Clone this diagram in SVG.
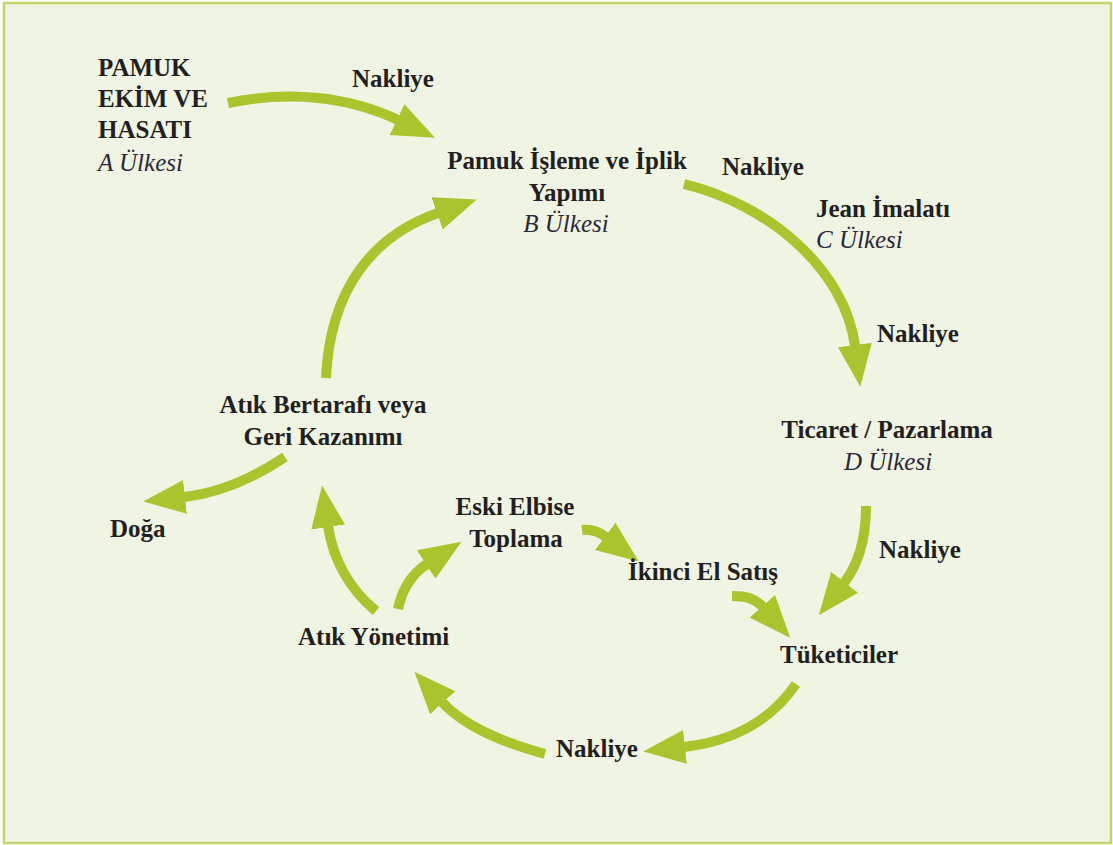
<svg xmlns="http://www.w3.org/2000/svg" width="1113" height="845" viewBox="0 0 1113 845">
<style>
.t{font-family:'Liberation Serif','Times New Roman',serif;font-size:25px;font-weight:bold;fill:#231f20}
.i{font-family:'Liberation Serif','Times New Roman',serif;font-size:25px;font-style:italic;fill:#2a2838}
.c{text-anchor:middle}
.a{fill:none;stroke:#a9c42c;stroke-width:10;marker-end:url(#ah)}
</style>
<defs>
<marker id="ah" markerUnits="userSpaceOnUse" markerWidth="44" markerHeight="36" viewBox="0 0 44 36" refX="1" refY="18" orient="auto">
<path d="M0,1 L42,18 L0,35 z" fill="#a9c42c"/>
</marker>
</defs>
<rect x="4" y="3" width="1107" height="840" fill="#f0f4e3" stroke="#c3d66b" stroke-width="2.5"/>
<g id="connectors">
<path class="a" d="M228,103 C290,90 350,97 398,120"/>
<path class="a" d="M326,378 C330,290 372,236 438,213"/>
<path class="a" d="M684,184 C770,205 845,270 855,346"/>
<path class="a" d="M866,506 C866,540 858,565 844,583"/>
<path class="a" d="M796,684 C770,722 730,742 684,747"/>
<path class="a" d="M545,754 C500,742 462,724 442,702"/>
<path class="a" d="M376,611 C350,590 333,560 328,526"/>
<path class="a" d="M285,457 C255,477 220,493 184,497"/>
<path class="a" d="M398,609 C402,590 410,575 427,564"/>
<path class="a" d="M582,530 C590,529 598,531 606,537"/>
<path class="a" d="M732,596 C745,596 755,598 763,607"/>
</g>
<g id="nakliye-labels">
<text class="t" x="352" y="87">Nakliye</text>
<text class="t" x="722" y="175">Nakliye</text>
<text class="t" x="877" y="342">Nakliye</text>
<text class="t" x="879" y="558">Nakliye</text>
<text class="t" x="556" y="757">Nakliye</text>
</g>
<g id="pamuk-ekim">
<text class="t" x="98" y="76">PAMUK</text>
<text class="t" x="98" y="107">EKİM VE</text>
<text class="t" x="98" y="138">HASATI</text>
<text class="i" x="98" y="171">A Ülkesi</text>
</g>
<g id="pamuk-isleme">
<text class="t c" x="567" y="169">Pamuk İşleme ve İplik</text>
<text class="t c" x="567" y="201">Yapımı</text>
<text class="i c" x="566" y="232">B Ülkesi</text>
</g>
<g id="jean">
<text class="t" x="816" y="217">Jean İmalatı</text>
<text class="i" x="816" y="248">C Ülkesi</text>
</g>
<g id="ticaret">
<text class="t c" x="887" y="438">Ticaret / Pazarlama</text>
<text class="i c" x="888" y="470">D Ülkesi</text>
</g>
<g id="tuketiciler">
<text class="t" x="780" y="663">Tüketiciler</text>
</g>
<g id="ikinci-el">
<text class="t" x="628" y="580">İkinci El Satış</text>
</g>
<g id="eski-elbise">
<text class="t c" x="515" y="515">Eski Elbise</text>
<text class="t c" x="516" y="547">Toplama</text>
</g>
<g id="atik-yonetimi">
<text class="t" x="298" y="645">Atık Yönetimi</text>
</g>
<g id="atik-bertarafi">
<text class="t c" x="323" y="413">Atık Bertarafı veya</text>
<text class="t c" x="323" y="445">Geri Kazanımı</text>
</g>
<g id="doga">
<text class="t" x="110" y="537">Doğa</text>
</g>
</svg>
